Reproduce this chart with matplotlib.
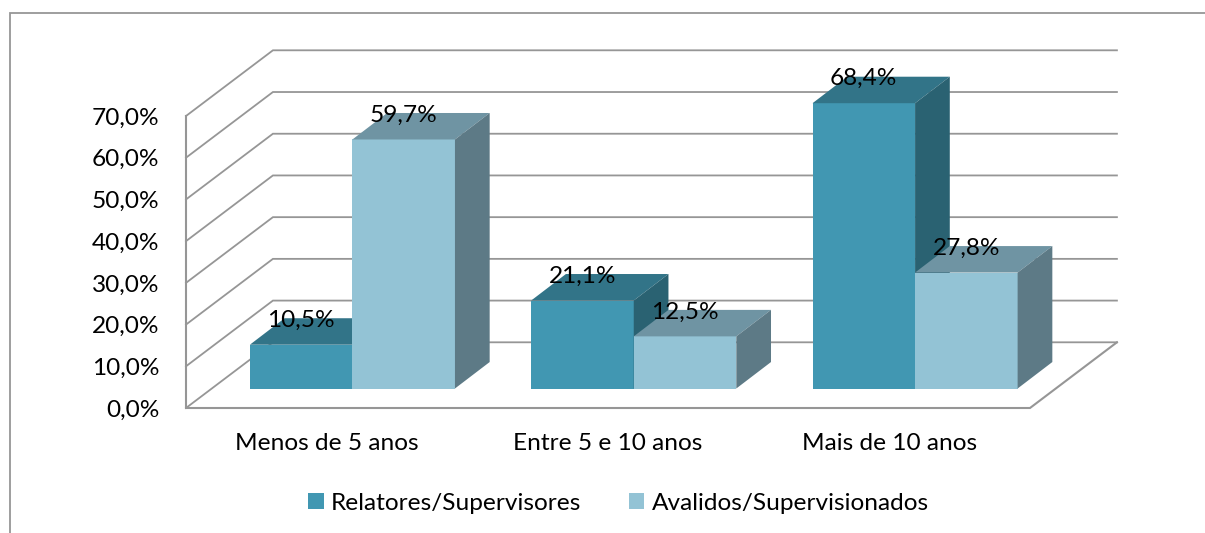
import matplotlib
matplotlib.use('Agg')
import matplotlib.pyplot as plt
from matplotlib.lines import Line2D
from matplotlib.patches import Patch

plt.rcParams['font.family'] = ['Lato', 'DejaVu Sans']

categories = ['Menos de 5 anos', 'Entre 5 e 10 anos', 'Mais de 10 anos']
relatores = [10.5, 21.1, 68.4]
avaliados = [59.7, 12.5, 27.8]
y_ticks = [0, 10, 20, 30, 40, 50, 60, 70]
y_labels = ['0,0%', '10,0%', '20,0%', '30,0%', '40,0%', '50,0%', '60,0%', '70,0%']
series_names = ['Relatores/Supervisores', 'Avalidos/Supervisionados']

W, H = 1205, 533
GRID = '#969696'
FS = 17.6

# depth of the fake 3d box, in data units
wall_dx, wall_dy = 0.309, 15.75
bar_w = 0.3645
shift_dx, shift_dy = 0.0915, 4.67
depth_dx, depth_dy = 0.1234, 6.35

fig = plt.figure(figsize=(W / 100, H / 100), dpi=100)
ax = fig.add_axes([186 / W, 1 - 408 / H, (1030 - 186) / W, (408 - 116) / H])
ax.set_xlim(0, 3)
ax.set_ylim(0, 70)
for s in ax.spines.values():
    s.set_visible(False)
ax.patch.set_visible(False)

ax.set_yticks(y_ticks)
ax.set_yticklabels(y_labels, fontsize=FS, color='black', va='center_baseline')
ax.set_xticks([i + 0.5 for i in range(3)])
ax.set_xticklabels(categories, fontsize=FS, color='black')
ax.tick_params(axis='y', length=0, pad=19)
ax.tick_params(axis='x', length=0, pad=18)

# walls and floor
for v in y_ticks:
    ax.plot([0, wall_dx, 3 + wall_dx], [v, v + wall_dy, v + wall_dy],
            color=GRID, lw=1.3, clip_on=False, zorder=1, solid_joinstyle='miter')
ax.plot([0, 0, 3, 3 + wall_dx], [70, 0, 0, wall_dy], color=GRID, lw=1.5,
        clip_on=False, zorder=1, solid_joinstyle='miter')


def draw_bar(x, val, front, top, side):
    y0 = shift_dy
    y1 = val + shift_dy
    ax.fill([x, x + bar_w, x + bar_w, x], [y0, y0, y1, y1], color=front, lw=0,
            clip_on=False, zorder=3)
    ax.fill([x, x + bar_w, x + bar_w + depth_dx, x + depth_dx],
            [y1, y1, y1 + depth_dy, y1 + depth_dy], color=top, lw=0,
            clip_on=False, zorder=3)
    ax.fill([x + bar_w, x + bar_w + depth_dx, x + bar_w + depth_dx, x + bar_w],
            [y0, y0 + depth_dy, y1 + depth_dy, y1], color=side, lw=0,
            clip_on=False, zorder=3)
    ax.text(x + bar_w / 2, y1 + depth_dy, f'{val:.1f}%'.replace('.', ','),
            fontsize=FS, color='black', ha='center', va='center_baseline',
            clip_on=False, zorder=5)


for i in range(3):
    left = i + 0.5 - bar_w + shift_dx
    draw_bar(left, relatores[i], '#4197B2', '#327488', '#2A6272')
    draw_bar(left + bar_w, avaliados[i], '#93C3D5', '#6F94A3', '#5D7A86')

handles = [Patch(color='#4197B2', lw=0), Patch(color='#93C3D5', lw=0)]
fig.legend(handles, series_names, loc='center', bbox_to_anchor=(618.5 / W, 1 - 503 / H),
           ncol=2, frameon=False, fontsize=FS, labelcolor='black',
           handlelength=0.62, handleheight=0.62, handletextpad=0.3, columnspacing=1.95,
           borderpad=0)

# chart frame, runs off the right and bottom of the image
fig.add_artist(Line2D([10 / W, 10 / W, 1], [0, 1 - 13 / H, 1 - 13 / H], color='#969696',
                      lw=1.3, transform=fig.transFigure, solid_joinstyle='miter'))

fig.savefig('out.png', dpi=100)
